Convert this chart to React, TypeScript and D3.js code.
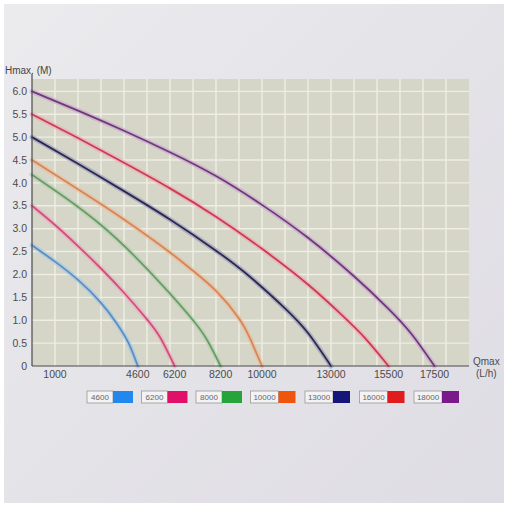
import React from "react";
import * as d3 from "d3";

// ---- data ----
const legendLabels = ["4600", "6200", "8000", "10000", "13000", "16000", "18000"];
const lineColors = ["#5a8ec2", "#d24f7c", "#6c9b69", "#d4875a", "#2b2852", "#cc3a55", "#6f3a79"];
const haloColors = ["#9cc4ea", "#f0a2bd", "#a9d0a4", "#f3b68e", "#8c8cb4", "#f3a0ab", "#c79ad0"];
const swatchColors = ["#2288ee", "#e0106a", "#24a43a", "#f05510", "#15157a", "#e01c1c", "#7a1a8a"];

const blueQ = [0, 1000, 2000, 3000, 3700, 4200, 4600];
const blueH = [2.64, 2.28, 1.88, 1.38, 0.92, 0.5, 0];
const pinkQ = [0, 1000, 2000, 3000, 4000, 5000, 5600, 6200];
const pinkH = [3.5, 3.08, 2.62, 2.13, 1.6, 1.02, 0.6, 0];
const greenQ = [0, 1500, 3000, 4500, 6000, 7000, 7600, 8200];
const greenH = [4.18, 3.66, 3.08, 2.38, 1.58, 1.0, 0.58, 0];
const orangeQ = [0, 2000, 4000, 6000, 7000, 8000, 9000, 9500, 10000];
const orangeH = [4.5, 3.86, 3.2, 2.48, 2.08, 1.64, 1.04, 0.58, 0];
const navyQ = [0, 2000, 4000, 6000, 8000, 9500, 11000, 12000, 13000];
const navyH = [5.0, 4.42, 3.82, 3.2, 2.52, 1.94, 1.26, 0.72, 0];
const redQ = [0, 2000, 4000, 6000, 8000, 10000, 12000, 13500, 14500, 15500];
const redH = [5.5, 4.98, 4.44, 3.88, 3.26, 2.56, 1.78, 1.1, 0.6, 0];
const purpleQ = [0, 2000, 4000, 6000, 8000, 10000, 12000, 14000, 15500, 16500, 17500];
const purpleH = [6.0, 5.58, 5.14, 4.67, 4.15, 3.52, 2.8, 1.96, 1.25, 0.7, 0];

const seriesQ = [blueQ, pinkQ, greenQ, orangeQ, navyQ, redQ, purpleQ];
const seriesH = [blueH, pinkH, greenH, orangeH, navyH, redH, purpleH];

const yTickValues = [0, 0.5, 1, 1.5, 2, 2.5, 3, 3.5, 4, 4.5, 5, 5.5, 6];
const yTickLabels = ["0", "0.5", "1.0", "1.5", "2.0", "2.5", "3.0", "3.5", "4.0", "4.5", "5.0", "5.5", "6.0"];
const xTickValues = [1000, 4600, 6200, 8200, 10000, 13000, 15500, 17500];
const xGridValues = d3.range(1000, 19000, 1000);

const FONT = "'Liberation Sans', Arial, sans-serif";

export default function App() {
  const W = 512, H = 514;
  const left = 32, right = 469, top = 79, bottom = 366;
  const x = d3.scaleLinear().domain([0, 19000]).range([left, right]);
  const y = d3.scaleLinear().domain([0, 6.27]).range([bottom, top]);
  const line = d3
    .line<[number, number]>()
    .x((d) => x(d[0]))
    .y((d) => y(d[1]))
    .curve(d3.curveNatural);

  const legendX = d3.scaleLinear().domain([0, legendLabels.length - 1]).range([87, 414]);

  return (
    <svg width={W} height={H} style={{ position: "absolute", left: 0, top: 0 }} fontFamily={FONT}>
      <defs>
        <linearGradient id="paper" x1="0" y1="0" x2="1" y2="1">
          <stop offset="0" stopColor="#ebebee" />
          <stop offset="0.5" stopColor="#e4e3e8" />
          <stop offset="1" stopColor="#dfdde4" />
        </linearGradient>
      </defs>
      <rect x={0} y={0} width={W} height={H} fill="#ffffff" />
      <rect x={4} y={4} width={500} height={499} fill="url(#paper)" />
      {/* plot area */}
      <rect x={left} y={top} width={right - left} height={bottom - top} fill="#d5d6c8" />
      {/* grid */}
      <g stroke="#f4f2ea" strokeWidth={1.4} opacity={0.85}>
        {xGridValues.map((v) => (
          <line key={"gx" + v} x1={x(v)} x2={x(v)} y1={top} y2={bottom} />
        ))}
        {yTickValues.slice(1).map((v) => (
          <line key={"gy" + v} x1={left} x2={right} y1={y(v)} y2={y(v)} />
        ))}
      </g>
      {/* curves */}
      {seriesQ.map((qs, i) => {
        const pts = qs.map((q, j) => [q, seriesH[i][j]] as [number, number]);
        const d = line(pts) || "";
        return (
          <g key={"s" + i} fill="none" strokeLinecap="round">
            <path d={d} stroke={haloColors[i]} strokeWidth={5} opacity={0.55} />
            <path d={d} stroke={lineColors[i]} strokeWidth={1.8} />
          </g>
        );
      })}
      {/* axes */}
      <line x1={left} x2={left} y1={74} y2={bottom} stroke="#4a4a4a" strokeWidth={1.2} />
      <line x1={left} x2={right} y1={bottom} y2={bottom} stroke="#4a4a4a" strokeWidth={1.2} />
      <text x={5} y={74} fontSize={10} fill="#444">Hmax. (M)</text>
      {yTickValues.map((v, i) => (
        <text key={"yt" + v} x={27} y={y(v)} dy="0.35em" textAnchor="end" fontSize={10.5} fill="#4c4c4c">
          {yTickLabels[i]}
        </text>
      ))}
      {xTickValues.map((v) => (
        <text key={"xt" + v} x={x(v)} y={378} textAnchor="middle" fontSize={10.5} fill="#4c4c4c">
          {v}
        </text>
      ))}
      <text x={473} y={365} fontSize={10} fill="#4c4c4c">Qmax</text>
      <text x={476} y={377} fontSize={10} fill="#4c4c4c">(L/h)</text>
      {/* legend */}
      {legendLabels.map((lab, i) => {
        const bx = legendX(i);
        const bw = lab.length > 4 ? 28 : 26;
        const sw = lab.length > 4 ? 17 : 20;
        return (
          <g key={"lg" + i}>
            <rect x={bx} y={391} width={bw} height={12} fill="#f3f2f4" stroke="#9a9a9a" strokeWidth={0.8} />
            <text x={bx + bw / 2} y={400} textAnchor="middle" fontSize={8} fill="#666">
              {lab}
            </text>
            <rect x={bx + bw} y={391} width={sw} height={12} fill={swatchColors[i]} />
          </g>
        );
      })}
    </svg>
  );
}
